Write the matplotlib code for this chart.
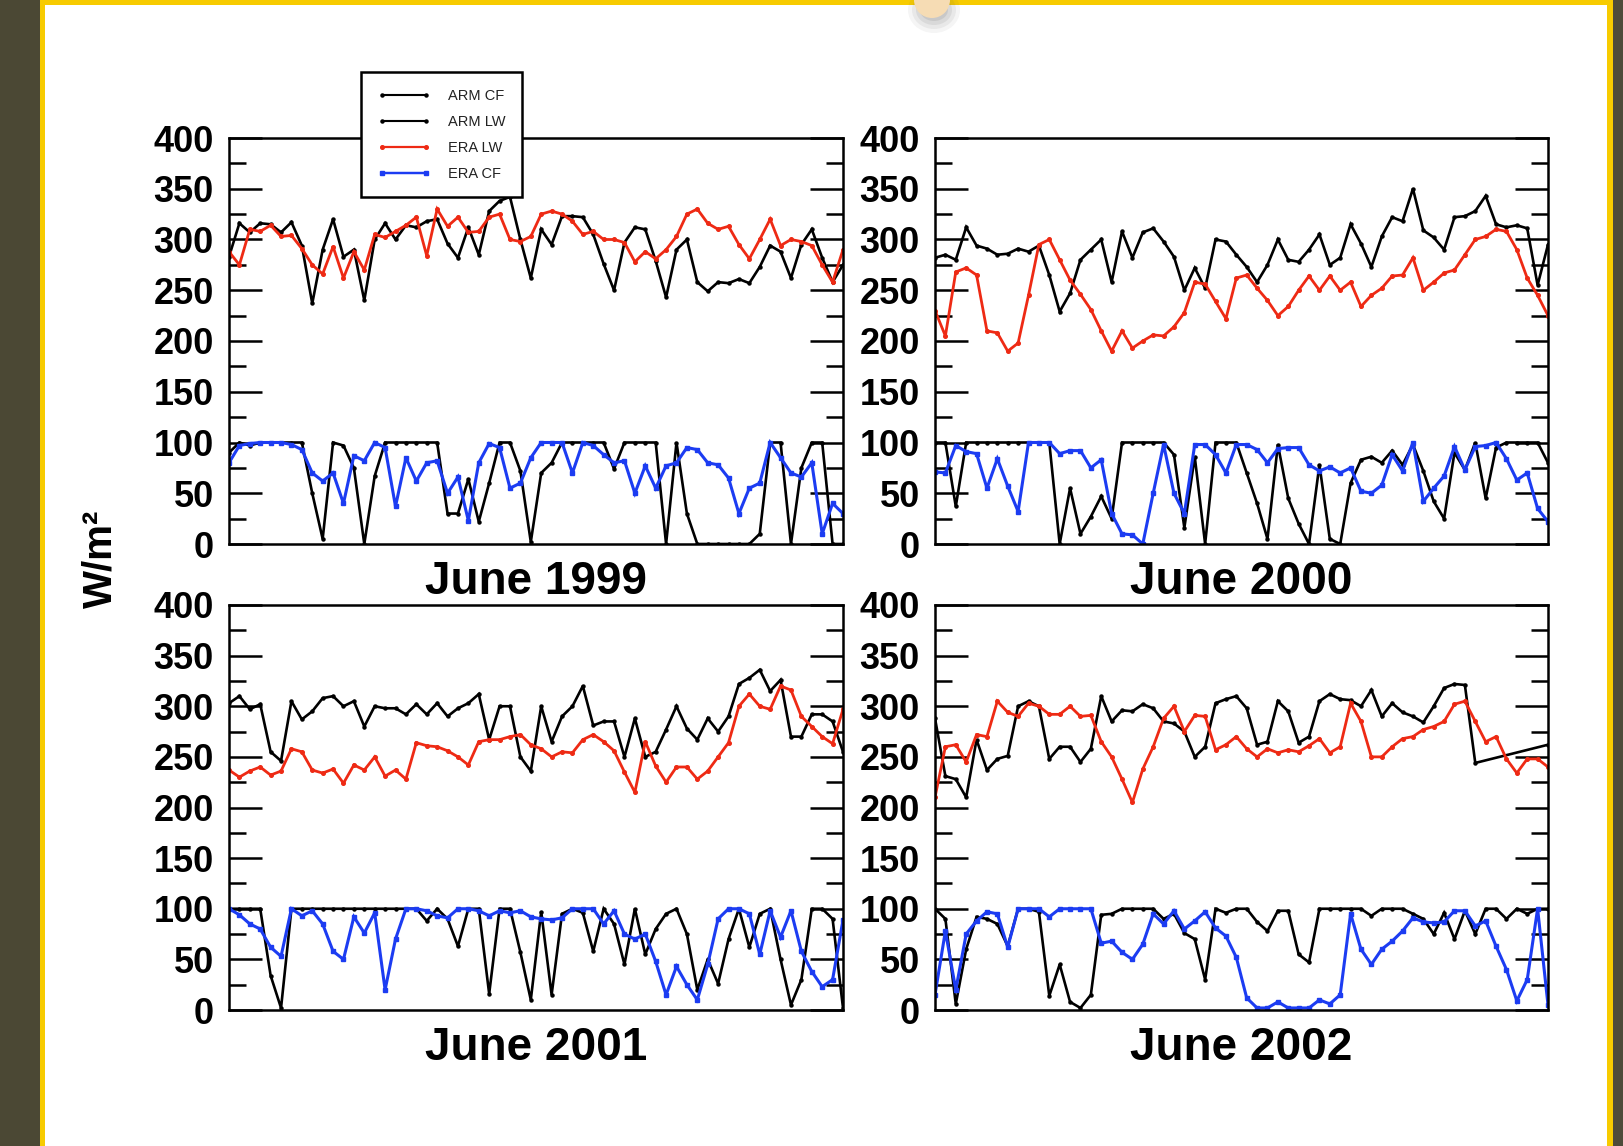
import numpy as np
import matplotlib
matplotlib.use("Agg")
import matplotlib.pyplot as plt
from matplotlib.patches import Rectangle, Circle, Ellipse
from matplotlib.lines import Line2D

nan = np.nan

# ---------------- data: twice-daily samples through June (W/m^2 and %) ----------------
days = np.arange(60) * 0.5

arm_cf_1999 = [90, 100, 97, 100, 100, 100, 100, 100, 50, 5,
               100, 97, 75, 0, 67, 100, 100, 100, 100, 100,
               100, 30, 30, 64, 22, 60, 100, 100, 72, 2,
               70, 80, 100, 100, 100, 100, 100, 74, 100, 100,
               100, 100, 0, 100, 30, 0, 0, 0, 0, 0,
               0, 10, 100, 100, 0, 75, 100, 100, 0, 0]
arm_lw_1999 = [283, 316, 307, 316, 315, 307, 317, 294, 237, 290,
               320, 283, 290, 240, 300, 316, 300, 314, 312, 318,
               320, 296, 282, 312, 285, 328, 338, 342, 300, 262,
               310, 295, 323, 323, 322, 305, 276, 250, 297, 312,
               310, 279, 243, 290, 300, 258, 249, 258, 257, 261,
               257, 273, 294, 288, 262, 295, 310, 282, 258, 275]
era_lw_1999 = [288, 275, 310, 308, 314, 303, 304, 291, 275, 266,
               293, 262, 288, 270, 305, 302, 308, 314, 322, 284,
               330, 313, 322, 307, 308, 322, 325, 300, 298, 303,
               325, 328, 325, 318, 305, 308, 300, 300, 297, 278,
               288, 281, 290, 303, 325, 330, 316, 310, 313, 295,
               281, 300, 320, 294, 300, 298, 294, 275, 258, 290]
era_cf_1999 = [80, 97, 99, 100, 100, 100, 98, 93, 70, 62,
               70, 40, 87, 82, 100, 95, 37, 85, 62, 80,
               82, 50, 66, 23, 80, 99, 95, 55, 60, 85,
               100, 100, 100, 70, 100, 97, 88, 80, 82, 50,
               77, 55, 77, 80, 95, 93, 80, 78, 65, 30,
               55, 60, 100, 85, 70, 66, 80, 10, 40, 30]

arm_cf_2000 = [100, 100, 37, 100, 100, 100, 100, 100, 100, 100,
               100, 100, 0, 55, 10, 27, 47, 25, 100, 100,
               100, 100, 100, 88, 16, 86, 0, 100, 100, 100,
               70, 40, 5, 98, 45, 20, 0, 78, 5, 0,
               60, 83, 86, 80, 92, 78, 98, 72, 42, 25,
               90, 73, 100, 45, 95, 100, 100, 100, 100, 80]
arm_lw_2000 = [282, 285, 280, 312, 294, 291, 285, 286, 291, 288,
               294, 265, 229, 247, 280, 290, 300, 258, 308, 282,
               307, 311, 298, 283, 250, 272, 252, 300, 298, 285,
               273, 258, 275, 300, 280, 278, 290, 305, 275, 282,
               315, 296, 273, 303, 322, 318, 350, 309, 302, 290,
               322, 323, 328, 343, 315, 312, 314, 311, 255, 295]
era_lw_2000 = [230, 205, 268, 272, 265, 210, 208, 190, 198, 245,
               295, 300, 280, 260, 246, 231, 210, 190, 210, 193,
               200, 206, 205, 214, 228, 258, 256, 239, 222, 262,
               265, 252, 240, 225, 234, 250, 264, 250, 264, 250,
               258, 234, 245, 252, 264, 265, 282, 250, 258, 267,
               270, 285, 300, 303, 310, 308, 290, 262, 245, 225]
era_cf_2000 = [71, 70, 97, 91, 89, 55, 84, 57, 32, 100,
               100, 100, 89, 92, 92, 75, 83, 30, 10, 9,
               0, 50, 98, 50, 30, 98, 98, 88, 70, 98,
               98, 93, 80, 94, 95, 95, 78, 72, 76, 70,
               75, 52, 50, 58, 88, 72, 100, 42, 55, 67,
               96, 73, 96, 97, 100, 84, 63, 70, 35, 22]

arm_cf_2001 = [100, 100, 100, 100, 34, 2, 100, 100, 100, 100,
               100, 100, 100, 100, 100, 100, 100, 100, 100, 88,
               100, 90, 63, 100, 100, 16, 100, 100, 57, 10,
               97, 15, 95, 100, 96, 58, 100, 85, 45, 100,
               55, 80, 95, 100, 75, 20, 50, 26, 70, 100,
               62, 95, 100, 50, 5, 30, 100, 100, 90, 2]
arm_lw_2001 = [303, 310, 297, 302, 255, 246, 305, 287, 295, 308,
               310, 300, 305, 280, 300, 298, 298, 292, 302, 292,
               303, 290, 298, 303, 312, 267, 300, 300, 250, 236,
               300, 265, 290, 300, 320, 281, 285, 285, 250, 288,
               250, 255, 277, 300, 278, 267, 288, 275, 290, 322,
               328, 336, 315, 326, 270, 270, 292, 292, 285, 255]
era_lw_2001 = [237, 230, 236, 240, 232, 236, 258, 255, 237, 234,
               238, 224, 242, 237, 250, 231, 237, 228, 264, 261,
               260, 256, 250, 242, 265, 267, 267, 270, 272, 262,
               258, 250, 255, 254, 267, 272, 265, 256, 235, 215,
               265, 241, 225, 240, 240, 228, 236, 250, 264, 300,
               312, 300, 297, 320, 316, 290, 280, 270, 263, 297]
era_cf_2001 = [100, 94, 85, 80, 62, 53, 100, 93, 98, 85,
               58, 50, 92, 76, 96, 20, 70, 100, 100, 98,
               93, 91, 100, 100, 98, 93, 98, 96, 98, 92,
               90, 89, 91, 100, 100, 100, 85, 98, 75, 70,
               75, 48, 15, 43, 25, 10, 45, 90, 100, 100,
               95, 55, 98, 72, 98, 58, 38, 23, 30, 89]

arm_cf_2002 = [100, 90, 6, 60, 92, 90, 85, 63, 100, 100,
               97, 14, 45, 8, 2, 15, 94, 95, 100, 100,
               100, 100, 90, 95, 76, 70, 30, 100, 96, 100,
               100, 87, 78, 98, 98, 55, 47, 100, 100, 100,
               100, 100, 93, 100, 100, 100, 95, 90, 75, 96,
               70, 98, 75, 100, 100, 90, 100, 95, 100, 100]
arm_lw_2002 = [288, 231, 228, 210, 267, 237, 248, 251, 300, 305,
               300, 248, 260, 260, 245, 258, 310, 285, 296, 295,
               302, 298, 285, 283, 275, 250, 260, 303, 307, 310,
               298, 262, 265, 305, 295, 264, 270, 305, 312, 307,
               306, 300, 316, 290, 303, 294, 290, 284, 300, 318,
               322, 321, 244, nan, nan, nan, nan, nan, nan, 262]
era_lw_2002 = [210, 260, 262, 245, 272, 270, 305, 294, 290, 303,
               300, 292, 292, 300, 290, 291, 265, 250, 228, 205,
               238, 260, 288, 300, 275, 291, 290, 257, 262, 270,
               258, 250, 258, 254, 257, 255, 261, 268, 254, 260,
               303, 285, 250, 250, 260, 268, 270, 277, 280, 285,
               302, 305, 285, 265, 270, 248, 234, 248, 248, 240]
era_cf_2002 = [15, 78, 20, 75, 88, 97, 95, 62, 100, 100,
               100, 92, 100, 100, 100, 100, 66, 68, 57, 50,
               65, 95, 85, 98, 80, 88, 97, 81, 73, 52,
               12, 2, 2, 8, 2, 2, 2, 10, 6, 15,
               95, 60, 45, 60, 68, 78, 91, 87, 86, 87,
               98, 98, 83, 88, 63, 40, 9, 30, 100, 5]

panel_titles = ["June 1999", "June 2000", "June 2001", "June 2002"]
series_labels = ["ARM CF", "ARM LW", "ERA LW", "ERA CF"]
y_ticks = [0, 50, 100, 150, 200, 250, 300, 350, 400]
y_minor = [25, 75, 125, 175, 225, 275, 325, 375]

panel_series = [
    (arm_cf_1999, arm_lw_1999, era_lw_1999, era_cf_1999),
    (arm_cf_2000, arm_lw_2000, era_lw_2000, era_cf_2000),
    (arm_cf_2001, arm_lw_2001, era_lw_2001, era_cf_2001),
    (arm_cf_2002, arm_lw_2002, era_lw_2002, era_cf_2002),
]

# ---------------- styles ----------------
RED = '#ee2a14'
BLUE = '#1c3cf2'
styles = [
    dict(color='black', lw=1.9, marker='o', ms=2.2),
    dict(color='black', lw=1.9, marker='o', ms=2.2),
    dict(color=RED, lw=2.0, marker='o', ms=2.6),
    dict(color=BLUE, lw=2.2, marker='s', ms=3.0),
]

plt.rcParams['font.family'] = ['Liberation Sans', 'DejaVu Sans']

W, H = 1623, 1146
fig = plt.figure(figsize=(W / 100, H / 100), dpi=100)
fig.patch.set_facecolor('white')

# slide frame behind the charts
bg = fig.add_axes([0, 0, 1, 1], zorder=-10)
bg.set_xlim(0, W)
bg.set_ylim(H, 0)
bg.axis('off')
OLIVE = '#4b4834'
YELLOW = '#f7cb00'
bg.add_patch(Rectangle((0, 0), 40, H, color=OLIVE, lw=0))
bg.add_patch(Rectangle((40, 0), 5, H, color=YELLOW, lw=0))
bg.add_patch(Rectangle((1613, 0), 10, H, color='#4e4b3a', lw=0))
bg.add_patch(Rectangle((1607, 0), 6, H, color=YELLOW, lw=0))
bg.add_patch(Rectangle((40, 0), 1573, 5, color=YELLOW, lw=0))
for k, a in enumerate([0.06, 0.08, 0.10, 0.12]):
    bg.add_patch(Ellipse((934, 10), 52 - 8 * k, 46 - 8 * k, color='#555555', alpha=a, lw=0))
bg.add_patch(Circle((932, 0), 18, color='#f6dcb4', lw=0))

# panel boxes in pixels: left, top, right, bottom
boxes = [(229, 138, 843, 544), (935, 138, 1548, 544),
         (229, 605, 843, 1010), (935, 605, 1548, 1010)]


def draw_series(ax, x, y, st):
    y = np.asarray(y, dtype=float)
    m = ~np.isnan(y)
    ax.plot(x[m], y[m], color=st['color'], lw=st['lw'], marker=st['marker'],
            ms=st['ms'], mec=st['color'], mfc=st['color'], solid_joinstyle='miter')


for box, title, series in zip(boxes, panel_titles, panel_series):
    l, t, r, b = box
    ax = fig.add_axes([l / W, 1 - b / H, (r - l) / W, (b - t) / H])
    for y, st in zip(series, styles):
        draw_series(ax, days, y, st)
    ax.set_xlim(days[0], days[-1])
    ax.set_ylim(0, 400)
    ax.set_yticks(y_ticks)
    ax.set_yticklabels([str(v) for v in y_ticks], fontsize=26, fontweight='bold')
    ax.set_yticks(y_minor, minor=True)
    ax.tick_params(axis='y', which='major', direction='in', length=24, width=1.8,
                   left=True, right=True, pad=11)
    ax.tick_params(axis='y', which='minor', direction='in', length=12, width=1.8,
                   left=True, right=True)
    ax.tick_params(axis='x', which='both', bottom=False, top=False, labelbottom=False)
    for sp in ax.spines.values():
        sp.set_linewidth(1.8)
    ax.annotate(title, xy=(0.5, 0), xycoords='axes fraction', xytext=(0, -36),
                textcoords='offset points', ha='center', va='baseline',
                fontsize=33, fontweight='bold')

fig.text(100 / W, 1 - 559 / H, "W/m²", rotation=90, ha='center', va='center',
         fontsize=29, fontweight='bold')

handles = [Line2D([], [], color=st['color'], lw=st['lw'] * 0.8, marker=st['marker'],
                  ms=st['ms'], mfc=st['color'], mec=st['color']) for st in styles]
leg = fig.legend(handles, series_labels, loc='upper left',
                 bbox_to_anchor=(361 / W, 1 - 72 / H), fontsize=10.5, frameon=True,
                 fancybox=False, edgecolor='black', framealpha=1, borderpad=1.15,
                 labelspacing=0.82, handlelength=3.6, handletextpad=1.2,
                 borderaxespad=0, numpoints=2)
leg.get_frame().set_linewidth(1.8)
for txt in leg.get_texts():
    txt.set_color('#222222')

fig.savefig("out.png", dpi=100, facecolor=fig.get_facecolor())
